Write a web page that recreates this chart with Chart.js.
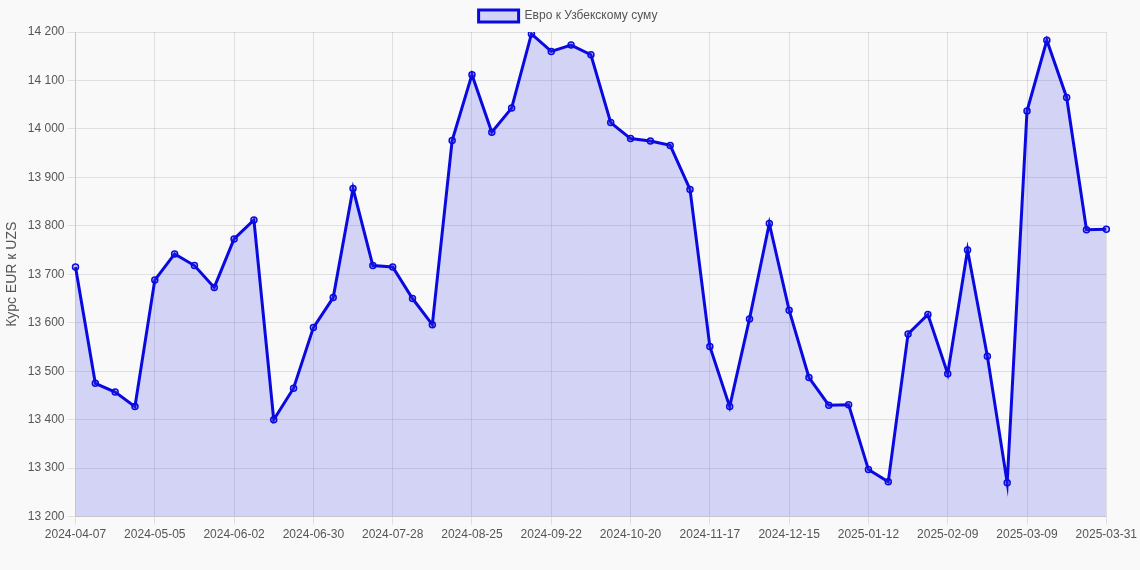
<!DOCTYPE html>
<html><head><meta charset="utf-8">
<script src="https://cdn.jsdelivr.net/npm/chart.js@4"></script>
<style>html,body{margin:0;background:#f9f9f9;}#w{width:1140px;height:570px;}</style>
</head><body><div id="w"><canvas id="c"></canvas></div>
<script>
const labels = [];
(function(){const d=new Date(Date.UTC(2024,3,7));for(let i=0;i<52;i++){labels.push(new Date(d.getTime()+i*7*864e5).toISOString().slice(0,10));}labels.push('2025-03-31');})();
const values = [13715,13475,13457,13427,13688,13742,13718,13673,13773,13812,13400,13465,13590,13652,13877,13718,13715,13650,13596,13976,14112,13993,14043,14196,14160,14173,14153,14013,13980,13975,13966,13875,13551,13427,13608,13805,13626,13487,13430,13431,13297,13272,13577,13617,13495,13750,13531,13270,14037,14183,14065,13792,13793];
const seriesName = 'Евро к Узбекскому суму';
const yTitle = 'Курс EUR к UZS';
Chart.defaults.font.family = 'Arial, "Liberation Sans", sans-serif';
Chart.defaults.color = '#555';
new Chart(document.getElementById('c'),{
 type:'line',
 data:{labels,datasets:[{label:seriesName,data:values,borderColor:'#0a0ae0',backgroundColor:'rgba(60,60,230,0.2)',fill:true,borderWidth:3,tension:0,pointRadius:3,pointBorderWidth:1.5,pointBackgroundColor:'rgba(60,60,230,0.2)',pointBorderColor:'#0a0ae0'}]},
 options:{responsive:true,maintainAspectRatio:false,animation:false,
  layout:{padding:{right:4,bottom:25}},
  plugins:{legend:{labels:{boxWidth:40,font:{size:12}}}},
  scales:{
   x:{grid:{color:'rgba(0,0,0,0.1)'},ticks:{autoSkip:false,maxRotation:0,font:{size:12},callback:function(v,i){return (i%4===0||i===labels.length-1)?labels[i]:null;}}},
   y:{min:13200,max:14200,title:{display:true,text:yTitle,font:{size:14}},grid:{color:'rgba(0,0,0,0.1)'},ticks:{stepSize:100,font:{size:12},callback:v=>v.toLocaleString('ru-RU')}}
  }}
});
</script></body></html>
